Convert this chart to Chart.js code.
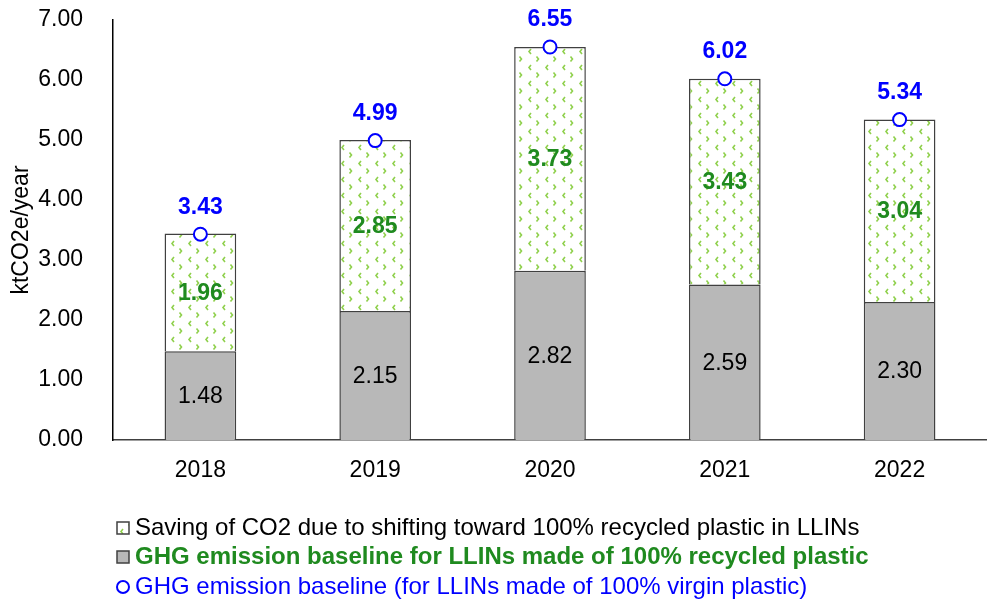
<!DOCTYPE html>
<html>
<head>
<meta charset="utf-8">
<script src="https://cdn.jsdelivr.net/npm/chart.js@4.4.1/dist/chart.umd.min.js"></script>
<style>
  html, body { margin: 0; padding: 0; background: #fff; }
  #wrap { width: 987px; height: 604px; }
</style>
</head>
<body>
<div id="wrap"><canvas id="c" width="987" height="604"></canvas></div>
<script>
const years = ["2018", "2019", "2020", "2021", "2022"];
const recycledBase = [1.48, 2.15, 2.82, 2.59, 2.30];
const savings = [1.96, 2.85, 3.73, 3.43, 3.04];
const virginBase = [3.43, 4.99, 6.55, 6.02, 5.34];
const yTicks = [0, 1, 2, 3, 4, 5, 6, 7];

const legendLabels = [
  "Saving of CO2 due to shifting toward 100% recycled plastic in LLINs",
  "GHG emission baseline for LLINs made of 100% recycled plastic",
  "GHG emission baseline (for LLINs made of 100% virgin plastic)"
];

const FONT = '"Liberation Sans", Arial, sans-serif';
const GREEN = "#1f8a1f";
const BLUE = "#0000ff";
const GRAY = "#b8b8b8";
const EDGE = "#404040";

// dotted chevron fill for the savings part
function makePattern() {
  const c = document.createElement("canvas");
  c.width = 17; c.height = 16;
  const g = c.getContext("2d");
  g.fillStyle = "#fff";
  g.fillRect(0, 0, 17, 16);
  g.strokeStyle = "#8fd04c";
  g.lineWidth = 1.6;
  g.beginPath();
  g.moveTo(4, 1); g.lineTo(2, 3.5); g.lineTo(4, 6);
  g.moveTo(9.5, 8.5); g.lineTo(11.5, 11); g.lineTo(9.5, 13.5);
  g.stroke();
  return g.createPattern(c, "repeat");
}
const hatch = makePattern();

const labelPlugin = {
  id: "labels",
  afterDatasetsDraw(chart) {
    const ctx = chart.ctx;
    ctx.save();
    ctx.textAlign = "center";
    ctx.textBaseline = "middle";
    const base = chart.getDatasetMeta(0).data;
    const save = chart.getDatasetMeta(1).data;
    const pts = chart.getDatasetMeta(2).data;
    base.forEach((b, i) => {
      ctx.font = "23px " + FONT;
      ctx.fillStyle = "#000";
      ctx.fillText(recycledBase[i].toFixed(2), b.x, (b.y + b.base) / 2 + 1);
    });
    save.forEach((b, i) => {
      ctx.font = "bold 23px " + FONT;
      ctx.fillStyle = GREEN;
      ctx.fillText(savings[i].toFixed(2), b.x, (b.y + b.base) / 2 + 1);
    });
    pts.forEach((p, i) => {
      ctx.font = "bold 23px " + FONT;
      ctx.fillStyle = BLUE;
      ctx.fillText(virginBase[i].toFixed(2), p.x, p.y - 27);
    });
    ctx.restore();
  }
};

const legendPlugin = {
  id: "customLegend",
  afterDraw(chart) {
    const ctx = chart.ctx;
    ctx.save();
    ctx.textBaseline = "middle";
    ctx.textAlign = "left";
    const x0 = 117, tx = 135;
    const rows = [528, 557, 587];
    // savings marker
    ctx.fillStyle = hatch;
    ctx.fillRect(x0, rows[0] - 6, 12, 12);
    ctx.strokeStyle = EDGE; ctx.lineWidth = 1.5;
    ctx.strokeRect(x0, rows[0] - 6, 12, 12);
    ctx.font = "24px " + FONT;
    ctx.fillStyle = "#000";
    ctx.fillText(legendLabels[0], tx, rows[0]);
    // recycled marker
    ctx.fillStyle = GRAY;
    ctx.fillRect(x0, rows[1] - 6, 12, 12);
    ctx.strokeRect(x0, rows[1] - 6, 12, 12);
    ctx.font = "bold 24px " + FONT;
    ctx.fillStyle = GREEN;
    ctx.fillText(legendLabels[1], tx, rows[1]);
    // virgin marker
    ctx.beginPath();
    ctx.arc(x0 + 6, rows[2], 6, 0, Math.PI * 2);
    ctx.fillStyle = "#fff"; ctx.fill();
    ctx.strokeStyle = BLUE; ctx.lineWidth = 2; ctx.stroke();
    ctx.font = "24px " + FONT;
    ctx.fillStyle = BLUE;
    ctx.fillText(legendLabels[2], tx, rows[2]);
    ctx.restore();
  }
};

new Chart(document.getElementById("c"), {
  data: {
    labels: years,
    datasets: [
      {
        type: "bar",
        label: legendLabels[1],
        data: recycledBase,
        backgroundColor: GRAY,
        borderColor: EDGE,
        borderWidth: 1.5,
        stack: "s",
        order: 1
      },
      {
        type: "bar",
        label: legendLabels[0],
        data: savings,
        backgroundColor: hatch,
        borderColor: EDGE,
        borderWidth: 1.5,
        stack: "s",
        order: 2
      },
      {
        type: "line",
        label: legendLabels[2],
        data: virginBase,
        showLine: false,
        pointStyle: "circle",
        pointRadius: 6.5,
        pointBackgroundColor: "#fff",
        pointBorderColor: BLUE,
        pointBorderWidth: 2,
        stack: "v",
        order: 0
      }
    ]
  },
  options: {
    responsive: false,
    animation: false,
    layout: { autoPadding: false, padding: { top: 20, right: 0, left: 0, bottom: 124 } },
    datasets: { bar: { categoryPercentage: 1, barPercentage: 0.41 } },
    plugins: { legend: { display: false }, tooltip: { enabled: false } },
    scales: {
      x: {
        stacked: true,
        grid: { display: false },
        border: { display: true, color: EDGE, width: 1.5 },
        ticks: { color: "#000", font: { family: FONT, size: 23 }, padding: 9 },
        afterFit: s => { s.height = 40; }
      },
      y: {
        stacked: true,
        min: 0, max: 7,
        afterBuildTicks: s => { s.ticks = yTicks.map(v => ({ value: v })); },
        grid: { display: false },
        border: { display: true, color: "#000", width: 1.5 },
        ticks: {
          color: "#000", padding: 22,
          font: { family: FONT, size: 23 },
          callback: v => Number(v).toFixed(2)
        },
        title: { display: true, text: "ktCO2e/year", color: "#000", font: { family: FONT, size: 23 }, padding: { top: 8, bottom: 0 } },
        afterFit: s => { s.width = 113; s.paddingTop = 0; s.paddingBottom = 0; }
      }
    }
  },
  plugins: [labelPlugin, legendPlugin]
});
</script>
</body>
</html>
